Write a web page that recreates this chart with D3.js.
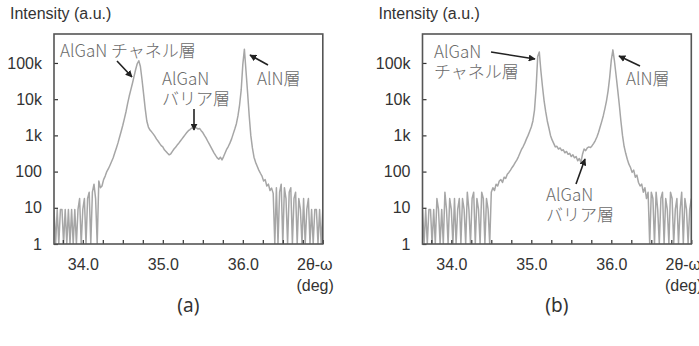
<!DOCTYPE html>
<html><head><meta charset="utf-8">
<script src="https://cdn.jsdelivr.net/npm/d3@7"></script>
<style>
html,body{margin:0;padding:0;background:#fff;}
svg{display:block;}
.tick text{font-family:"Liberation Sans",Arial,sans-serif;font-size:16px;fill:#333;}
.ann{font-family:"Noto Sans CJK JP",sans-serif;font-size:17px;fill:#6a6a6a;font-weight:300;}
</style></head>
<body>
<script>
// ---- data ----
const scanStart = 33.64;   // 2θ-ω scan start (deg)
const scanStep = 0.02;     // scan step (deg)
const xDomain = [33.64, 37.0];
const yDomain = [1, Math.pow(10, 5.8)];
const yTicks = [1, 10, 100, 1000, 10000, 100000];
const yTickLabels = ["1", "10", "100", "1k", "10k", "100k"];
const xTicks = [33.75, 34.0, 34.25, 34.5, 34.75, 35.0, 35.25, 35.5, 35.75, 36.0, 36.25, 36.5, 36.75, 37.0];
const xTickLabels = {34.0: "34.0", 35.0: "35.0", 36.0: "36.0"};
const xAxisTitle = ["2θ-ω", "(deg)"];
const yAxisTitle = "Intensity (a.u.)";
const panelLabels = ["(a)", "(b)"];

const intensityA = [
  9,1,9,1,9,9,1,9,1,9, 1,9,1,9,1,9,18,1,9,18, 1,18,27,1,27,45,18,1,55,36,
  40,60,75,100,120,150,190,240,330,450, 620,900,1300,1900,2900,4500,7500,12000,18000,27000,
  42000,65000,95000,115000,80000,35000,14000,5500,2500,1700, 1400,1250,1100,950,800,700,600,520,480,400,
  360,320,290,310,360,420,470,540,610,700, 800,920,1050,1200,1350,1450,1600,1550,1650,1600,
  1500,1550,1350,1200,1000,850,700,580,480,400, 330,280,240,220,250,210,260,330,420,500,
  620,800,1100,1500,2100,3500,7000,18000,90000,240000, 60000,15000,3500,1000,450,250,180,140,110,90,
  75,55,60,40,45,30,35,25,1,36, 1,27,45,1,36,18,1,27,36,1,
  18,27,1,18,9,1,18,1,9,18, 1,9,1,9,9,1,9,1,9
];
const intensityB = [
  9,1,9,1,9,9,1,9,1,18, 9,1,9,1,27,9,1,18,9,1, 18,1,9,18,1,18,9,1,27,9,
  1,18,27,1,18,9,1,27,18,1, 18,9,1,27,36,30,45,40,55,60,
  50,70,65,85,95,110,130,150,180,210, 260,330,420,500,620,800,1000,1300,1700,2500,
  5000,20000,150000,200000,60000,22000,9000,4500,2500,1600, 1000,750,600,480,500,420,450,380,400,330,
  360,300,320,260,290,240,260,200,230,180, 300,420,380,450,480,460,520,600,720,900,
  1200,1700,2400,3500,5500,9000,17000,40000,120000,230000, 110000,45000,18000,7000,2500,1000,500,320,220,160,
  130,95,110,70,80,50,40,45,27,36, 18,27,1,27,18,1,27,9,1,18,
  27,1,18,9,1,27,18,1,9,18, 1,9,27,1,18,9,1,9,18
];

// ---- layout ----
const W = 699, H = 346;
const panels = [
  {data: intensityA, left: 54, label: panelLabels[0],
   texts: [{t: ["AlGaN チャネル層"], x: 6, y: 23}, {t: ["AlGaN", "バリア層"], x: 108, y: 51}, {t: ["AlN層"], x: 203, y: 51}],
   arrows: [[63, 27, 78, 43], [140, 75, 140, 96], [214, 31, 196, 21]]},
  {data: intensityB, left: 422.5, label: panelLabels[1],
   texts: [{t: ["AlGaN", "チャネル層"], x: 11.5, y: 24}, {t: ["AlN層"], x: 203.5, y: 51}, {t: ["AlGaN", "バリア層"], x: 123.5, y: 167}],
   arrows: [[68.5, 18, 112.5, 25], [217.5, 32, 196.5, 22], [153.5, 150, 162.5, 125]]}
];
const plotTop = 34, plotH = 210, plotW = 268.8, annLine = 20;

const svg = d3.select("body").append("svg").attr("width", W).attr("height", H)
  .style("font-family", "'Liberation Sans', Arial, sans-serif");
svg.append("rect").attr("width", W).attr("height", H).attr("fill", "#fff");

const defs = svg.append("defs");
defs.append("marker").attr("id", "ah").attr("viewBox", "0 0 10 10").attr("refX", 9).attr("refY", 5)
  .attr("markerWidth", 7).attr("markerHeight", 7).attr("markerUnits", "userSpaceOnUse").attr("orient", "auto")
  .append("path").attr("d", "M0,0L10,5L0,10Z").attr("fill", "#222");

panels.forEach((p, pi) => {
  const x = d3.scaleLinear().domain(xDomain).range([0, plotW]);
  const y = d3.scaleLog().domain(yDomain).range([plotH, 0]);
  const g = svg.append("g").attr("transform", `translate(${p.left},${plotTop})`);

  defs.append("clipPath").attr("id", "clip" + pi).append("rect").attr("width", plotW).attr("height", plotH);

  const pts = p.data.map((v, i) => [scanStart + i * scanStep, v]);
  const line = d3.line().x(d => x(d[0])).y(d => y(Math.max(1, d[1])));
  g.append("path").attr("clip-path", `url(#clip${pi})`).datum(pts).attr("d", line)
    .attr("fill", "none").attr("stroke", "#a6a6a6").attr("stroke-width", 1.5).attr("stroke-linejoin", "round");

  // axes
  const ya = g.append("g").call(d3.axisLeft(y).tickValues(yTicks)
    .tickFormat((d, i) => yTickLabels[i]).tickSizeInner(-4).tickSizeOuter(0).tickPadding(12));
  const xa = g.append("g").attr("transform", `translate(0,${plotH})`).call(d3.axisBottom(x).tickValues(xTicks)
    .tickFormat(d => xTickLabels[d] || "").tickSizeInner(-4).tickSizeOuter(0).tickPadding(15));
  [ya, xa].forEach(a => { a.select(".domain").remove(); a.selectAll("line").attr("stroke", "#333").attr("stroke-width", 1.2); });

  g.append("rect").attr("width", plotW).attr("height", plotH).attr("fill", "none")
    .attr("stroke", "#555").attr("stroke-width", 1.6);

  // axis titles
  g.append("text").attr("x", -44).attr("y", -15).text(yAxisTitle)
    .attr("font-size", 16).attr("fill", "#333");
  const xt = g.append("text").attr("x", x(37.0) - 8).attr("y", plotH + 26).attr("text-anchor", "middle")
    .attr("font-size", 16).attr("fill", "#333");
  xt.append("tspan").text(xAxisTitle[0]);
  xt.append("tspan").attr("x", x(37.0) + 11).attr("dy", 21).attr("text-anchor", "end").text(xAxisTitle[1]);

  // panel label
  g.append("text").attr("x", plotW / 2).attr("y", plotH + 68).attr("text-anchor", "middle")
    .text(p.label).attr("font-family", "'Noto Sans', sans-serif").attr("font-size", 19).attr("fill", "#333");

  // annotations
  p.texts.forEach(t => {
    const tx = g.append("text").attr("class", "ann").attr("x", t.x).attr("y", t.y);
    t.t.forEach((s, k) => tx.append("tspan").attr("x", t.x).attr("dy", k ? annLine : 0).text(s));
  });
  p.arrows.forEach(a => g.append("line").attr("x1", a[0]).attr("y1", a[1]).attr("x2", a[2]).attr("y2", a[3])
    .attr("stroke", "#222").attr("stroke-width", 1.6).attr("marker-end", "url(#ah)"));
});
</script>
</body></html>
